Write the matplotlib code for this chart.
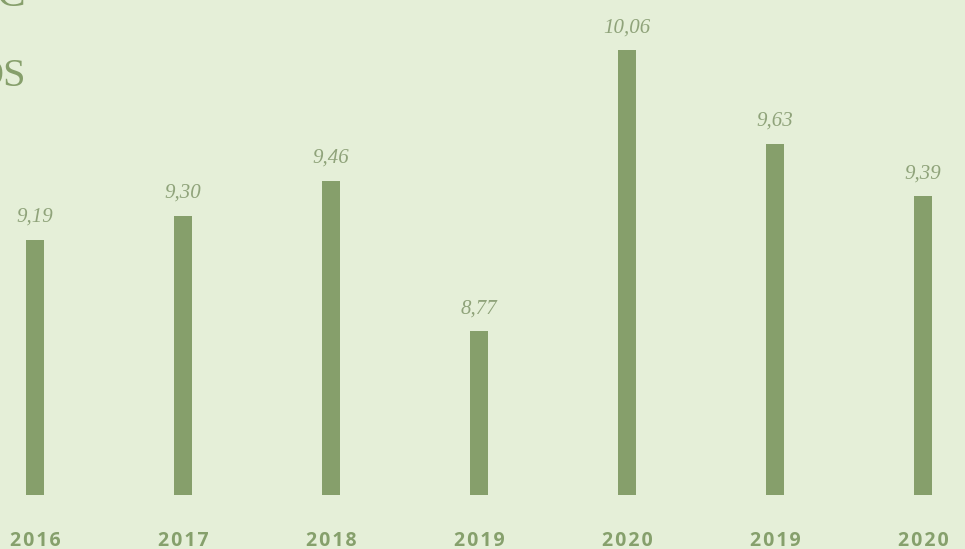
import matplotlib
matplotlib.use("Agg")
from matplotlib import pyplot as plt

years = ["2016", "2017", "2018", "2019", "2020", "2019", "2020"]
values = [9.19, 9.30, 9.46, 8.77, 10.06, 9.63, 9.39]
base = 8.0

BG = "#e5efd8"
BAR = "#869f6b"
LABEL = "#8fa37a"
TICK = "#86a06c"

W, H = 965, 549
fig = plt.figure(figsize=(W / 100, H / 100), dpi=100, facecolor=BG)
# axes bottom sits where the bars start
ax = fig.add_axes([0, 54 / H, 1, 495 / H])
ax.set_facecolor(BG)

x = list(range(len(values)))
ax.bar(x, [v - base for v in values], bottom=base, width=0.128, color=BAR)

for xi, v in zip(x, values):
    ax.annotate(f"{v:.2f}".replace(".", ","), (xi, v), xytext=(0, 16),
                textcoords="offset points", ha="center", va="center",
                fontsize=15, style="italic", family="Liberation Serif",
                color=LABEL)

for xi, y in zip(x, years):
    ax.annotate("\u200a".join(y), (xi, 8.017), xytext=(0, -33),
                textcoords="offset points", ha="center", va="center",
                fontsize=14, weight="bold", family=["Open Sans", "DejaVu Sans"],
                color=TICK, annotation_clip=False)

# title, mostly clipped off the left edge
fig.text(25 / W, 1 + 4 / H, "C", ha="right", va="center",
         fontsize=31, family="Liberation Serif", color=BAR)
fig.text(26 / W, 1 - 77 / H, "OS", ha="right", va="center",
         fontsize=29, family="Liberation Serif", color=BAR)

ax.set_xlim(-35 / 148, 930 / 148)
ax.set_ylim(8.017, 8.017 + 495 / 217.8)
ax.axis("off")

fig.savefig("out.png", dpi=100, facecolor=BG)
